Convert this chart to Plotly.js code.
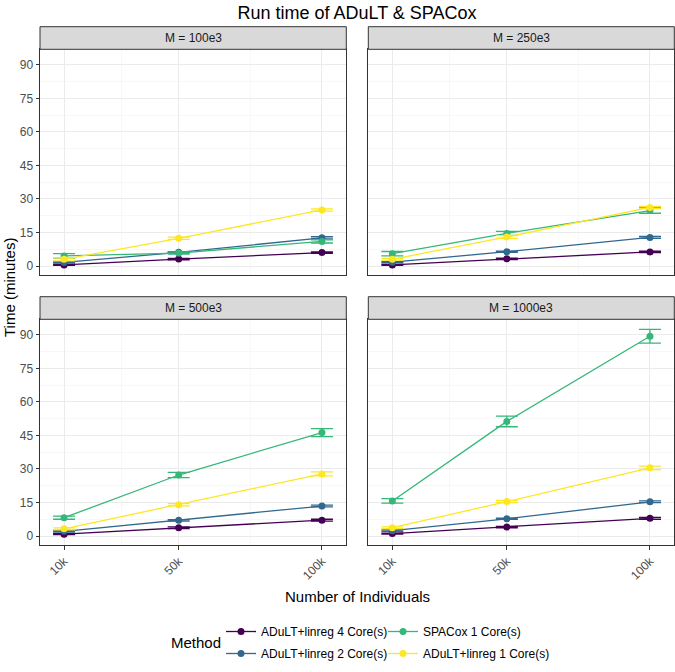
<!DOCTYPE html>
<html>
<head>
<meta charset="utf-8">
<script src="https://cdn.plot.ly/plotly-3.0.1.min.js"></script>
<style>
  html, body { margin: 0; padding: 0; background: #ffffff; }
  #myDiv { width: 675px; height: 672px; }
</style>
</head>
<body>
<div id="myDiv"></div>
<script>
/* jshint esversion: 6 */
/* global Plotly */

// Number of individuals (in thousands) and their tick labels
const individualsK = [10, 50, 100];
const individualLabels = ['10k', '50k', '100k'];

// One facet per number of markers M
const panelLabels = ['M = 100e3', 'M = 250e3', 'M = 500e3', 'M = 1000e3'];

// Methods, in legend order, with viridis colours
const methodNames = ['ADuLT+linreg 4 Core(s)', 'ADuLT+linreg 2 Core(s)',
    'SPACox 1 Core(s)', 'ADuLT+linreg 1 Core(s)'];
const methodColors = ['#440154', '#31688E', '#35B779', '#FDE725'];

// Mean run time (minutes), one row per panel
const core4Time = [[0.5, 3.1, 6.0], [0.5, 3.2, 6.3], [0.8, 3.7, 7.1], [1.1, 4.0, 7.9]];
const core2Time = [[1.6, 6.1, 12.6], [1.7, 6.4, 12.8], [2.1, 7.0, 13.4], [2.4, 7.7, 15.3]];
const spacoxTime = [[4.5, 5.8, 11.0], [5.5, 14.6, 24.8], [8.2, 27.3, 46.3], [15.7, 51.3, 89.4]];
const core1Time = [[3.0, 12.4, 25.1], [3.0, 13.0, 26.2], [3.2, 14.0, 27.8], [3.7, 15.4, 30.5]];

// Half widths of the error bars (minutes)
const core4Err = [[0.2, 0.3, 0.3], [0.2, 0.3, 0.3], [0.2, 0.4, 0.4], [0.2, 0.3, 0.4]];
const core2Err = [[0.3, 0.3, 0.5], [0.3, 0.3, 0.4], [0.3, 0.3, 0.4], [0.3, 0.3, 0.4]];
const spacoxErr = [[1.0, 0.5, 0.7], [1.0, 0.9, 1.2], [0.7, 1.2, 1.8], [1.0, 2.4, 3.1]];
const core1Err = [[0.7, 0.5, 0.5], [0.4, 0.6, 0.5], [0.4, 0.5, 0.9], [0.4, 0.5, 0.8]];

const timeTicks = [0, 15, 30, 45, 60, 75, 90];
const timeMinor = [7.5, 22.5, 37.5, 52.5, 67.5, 82.5];
const individualMinor = [30, 75];

function runPlot() {
    'use strict';

    const W = 675, H = 672;
    const FONT = 'Liberation Sans, Arial, sans-serif';

    const times = [core4Time, core2Time, spacoxTime, core1Time];
    const errs = [core4Err, core2Err, spacoxErr, core1Err];
    // first column of the legend holds methods 0,1; second column 2,3
    const legendOf = ['legend', 'legend', 'legend2', 'legend2'];

    // panel boxes in pixels: [left, right, top, bottom]
    const panels = [
        [40, 346.3, 49.3, 275],
        [368.3, 674.3, 49.3, 275],
        [40, 346.3, 319.3, 545],
        [368.3, 674.3, 319.3, 545]
    ];
    const stripH = 22.6;

    let traces = [];
    methodNames.forEach(function (name, m) {
        for (let p = 0; p < 4; p++) {
            const suffix = p === 0 ? '' : String(p + 1);
            traces.push({
                type: 'scatter',
                mode: 'lines+markers',
                name: name,
                x: individualsK,
                y: times[m][p],
                xaxis: 'x' + suffix,
                yaxis: 'y' + suffix,
                line: {color: methodColors[m], width: 1.3},
                marker: {color: methodColors[m], size: 7},
                error_y: {
                    type: 'data', array: errs[m][p], visible: true,
                    color: methodColors[m], thickness: 1.3, width: 11
                },
                legend: legendOf[m],
                legendgroup: name,
                showlegend: p === 0
            });
        }
    });

    let layout = {
        width: W,
        height: H,
        margin: {l: 0, r: 0, t: 0, b: 0},
        paper_bgcolor: '#ffffff',
        plot_bgcolor: '#ffffff',
        font: {family: FONT, color: '#000000'},
        title: {
            text: 'Run time of ADuLT & SPACox',
            font: {size: 18, color: '#000000'},
            x: 357 / W, xanchor: 'center', xref: 'paper',
            y: 1 - 13 / H, yanchor: 'middle', yref: 'paper'
        },
        showlegend: true,
        legend: {
            x: 221 / W, xanchor: 'left',
            y: 1 - 617 / H, yanchor: 'top',
            font: {size: 12, color: '#000000'},
            tracegroupgap: 3,
            bgcolor: 'rgba(0,0,0,0)'
        },
        legend2: {
            x: 383 / W, xanchor: 'left',
            y: 1 - 617 / H, yanchor: 'top',
            font: {size: 12, color: '#000000'},
            tracegroupgap: 3,
            bgcolor: 'rgba(0,0,0,0)'
        },
        shapes: [],
        annotations: [
            {
                text: 'Number of Individuals', showarrow: false,
                xref: 'paper', yref: 'paper', x: 357 / W, y: 1 - 596 / H,
                xanchor: 'center', yanchor: 'middle',
                font: {size: 15, color: '#000000'}
            },
            {
                text: 'Time (minutes)', showarrow: false, textangle: -90,
                xref: 'paper', yref: 'paper', x: 9 / W, y: 1 - 288 / H,
                xanchor: 'center', yanchor: 'middle',
                font: {size: 15, color: '#000000'}
            },
            {
                text: 'Method', showarrow: false,
                xref: 'paper', yref: 'paper', x: 169 / W, y: 1 - 642 / H,
                xanchor: 'left', yanchor: 'middle',
                font: {size: 15, color: '#000000'}
            }
        ]
    };

    panels.forEach(function (box, p) {
        const suffix = p === 0 ? '' : String(p + 1);
        const bottomRow = p >= 2;
        const leftCol = p % 2 === 0;

        layout['xaxis' + suffix] = {
            domain: [box[0] / W, box[1] / W],
            anchor: 'y' + suffix,
            range: [1.6, 108.5],
            tickmode: 'array',
            tickvals: individualsK,
            ticktext: individualLabels,
            showticklabels: bottomRow,
            ticks: bottomRow ? 'outside' : '',
            ticklen: 3.5, tickwidth: 1, tickcolor: '#333333',
            tickangle: -45,
            tickfont: {size: 12, color: '#4D4D4D', family: FONT},
            showline: true, mirror: true, linecolor: '#333333', linewidth: 1,
            showgrid: true, gridcolor: '#EBEBEB', gridwidth: 1,
            minor: {tickvals: individualMinor, showgrid: true,
                gridcolor: '#F3F3F3', gridwidth: 0.6, ticks: ''},
            zeroline: false,
            fixedrange: true
        };
        layout['yaxis' + suffix] = {
            domain: [1 - box[3] / H, 1 - box[2] / H],
            anchor: 'x' + suffix,
            range: [-4.03, 97.0],
            tickmode: 'array',
            tickvals: timeTicks,
            showticklabels: leftCol,
            ticks: leftCol ? 'outside' : '',
            ticklen: 3.5, tickwidth: 1, tickcolor: '#333333',
            tickfont: {size: 12, color: '#4D4D4D', family: FONT},
            showline: true, mirror: true, linecolor: '#333333', linewidth: 1,
            showgrid: true, gridcolor: '#EBEBEB', gridwidth: 1,
            minor: {tickvals: timeMinor, showgrid: true,
                gridcolor: '#F3F3F3', gridwidth: 0.6, ticks: ''},
            zeroline: false,
            fixedrange: true
        };

        // facet strip above the panel
        layout.shapes.push({
            type: 'rect', xref: 'paper', yref: 'paper',
            x0: box[0] / W, x1: box[1] / W,
            y0: 1 - box[2] / H, y1: 1 - (box[2] - stripH) / H,
            fillcolor: '#D9D9D9',
            line: {color: '#333333', width: 1}
        });
        layout.annotations.push({
            text: panelLabels[p], showarrow: false,
            xref: 'paper', yref: 'paper',
            x: (box[0] + box[1]) / 2 / W,
            y: 1 - (box[2] - stripH / 2) / H,
            xanchor: 'center', yanchor: 'middle',
            font: {size: 12, color: '#1A1A1A'}
        });
    });

    Plotly.newPlot('myDiv', traces, layout, {displayModeBar: false, staticPlot: true});
}

runPlot();
</script>
</body>
</html>
